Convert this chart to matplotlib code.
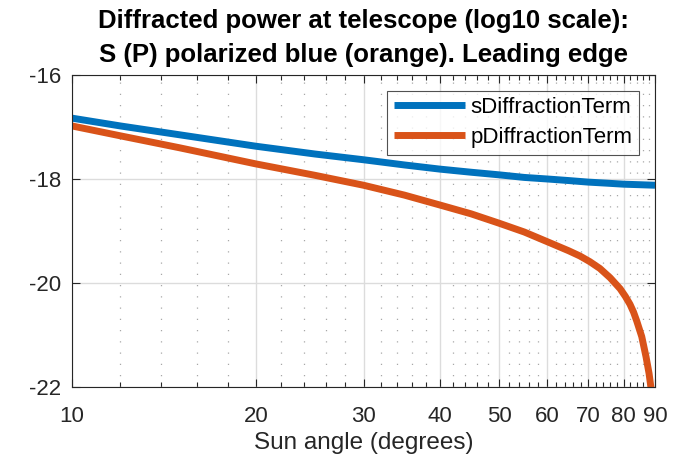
import matplotlib
matplotlib.use("Agg")
import matplotlib.pyplot as plt
from matplotlib.ticker import FixedLocator, NullFormatter

# Data
angle_s = [10, 12, 15, 20, 25, 30, 35, 40, 45, 50, 55, 60, 65, 70, 75, 80, 85, 90]
s_term = [-16.83, -16.98, -17.15, -17.37, -17.52, -17.63, -17.73, -17.81, -17.87, -17.92,
          -17.97, -18.00, -18.03, -18.06, -18.08, -18.10, -18.11, -18.12]

angle_p = [10, 12, 15, 20, 25, 30, 35, 40, 45, 50, 55, 59.8, 65, 67.8, 70.4, 73.1, 76.0,
           78.9, 80.5, 81.9, 83.0, 84.0, 85.6, 87.0, 88.0, 88.6, 89.3, 90]
p_term = [-16.98, -17.17, -17.40, -17.71, -17.93, -18.12, -18.31, -18.50, -18.67, -18.85,
          -19.02, -19.20, -19.38, -19.48, -19.59, -19.72, -19.90,
          -20.11, -20.26, -20.41, -20.56, -20.73, -21.03, -21.42, -21.74, -22.00, -22.40, -23.50]

x_ticks = [10, 20, 30, 40, 50, 60, 70, 80, 90]
x_minor = [12, 14, 16, 18, 22, 24, 26, 28, 32, 34, 36, 38, 42, 44, 46, 48,
           52, 54, 56, 58, 62, 64, 66, 68, 72, 74, 76, 78, 82, 84, 86, 88]
x_ticklabels = ["10", "20", "30", "40", "50", "60", "70", "80", "90"]
y_ticks = [-22, -20, -18, -16]
y_ticklabels = ["-22", "-20", "-18", "-16"]

plt.rcParams['font.family'] = ['Liberation Sans', 'DejaVu Sans']
axcol = '#262626'

fig = plt.figure(figsize=(6.89, 4.62), dpi=100)
ax = fig.add_axes([0.1045, 0.1623, 0.8462, 0.6754])

ax.plot(angle_s, s_term, color='#0072BD', lw=5, label='sDiffractionTerm', solid_capstyle='butt')
ax.plot(angle_p, p_term, color='#D95319', lw=5, label='pDiffractionTerm', solid_capstyle='butt')

ax.set_xscale('log')
ax.set_xlim(10, 90)
ax.set_ylim(-22, -16)

ax.xaxis.set_major_locator(FixedLocator(x_ticks))
ax.set_xticklabels(x_ticklabels)
ax.xaxis.set_minor_locator(FixedLocator(x_minor))
ax.xaxis.set_minor_formatter(NullFormatter())
ax.set_yticks(y_ticks)
ax.set_yticklabels(y_ticklabels)

ax.grid(True, which='major', color='#dcdcdc', lw=1.0, ls='-')
ax.grid(True, which='minor', axis='x', color='#a8a8a8', lw=0.9, ls=(0, (1, 8)))
ax.set_axisbelow(True)

ax.tick_params(which='both', direction='in', top=True, right=True, colors=axcol,
               labelsize=16, labelcolor='#262626')
ax.tick_params(which='major', length=6, width=0.8)
ax.tick_params(which='minor', length=3.5, width=0.8)
ax.tick_params(axis='x', pad=14)
ax.tick_params(axis='y', pad=8)
for sp in ax.spines.values():
    sp.set_color(axcol)
    sp.set_linewidth(0.8)

ax.set_xlabel('Sun angle (degrees)', fontsize=17.5, color='#262626', labelpad=3)
ax.set_title('Diffracted power at telescope (log10 scale):\nS (P) polarized blue (orange). Leading edge',
             fontsize=18.5, fontweight='bold', pad=9, linespacing=1.55)

leg = ax.legend(loc='upper right', fontsize=16, frameon=True, fancybox=False,
                edgecolor=axcol, handlelength=3.2, borderaxespad=0.7, labelspacing=0.4,
                handletextpad=0.25, borderpad=0.3)
leg.get_frame().set_linewidth(0.8)

fig.savefig('out.png', dpi=100)
